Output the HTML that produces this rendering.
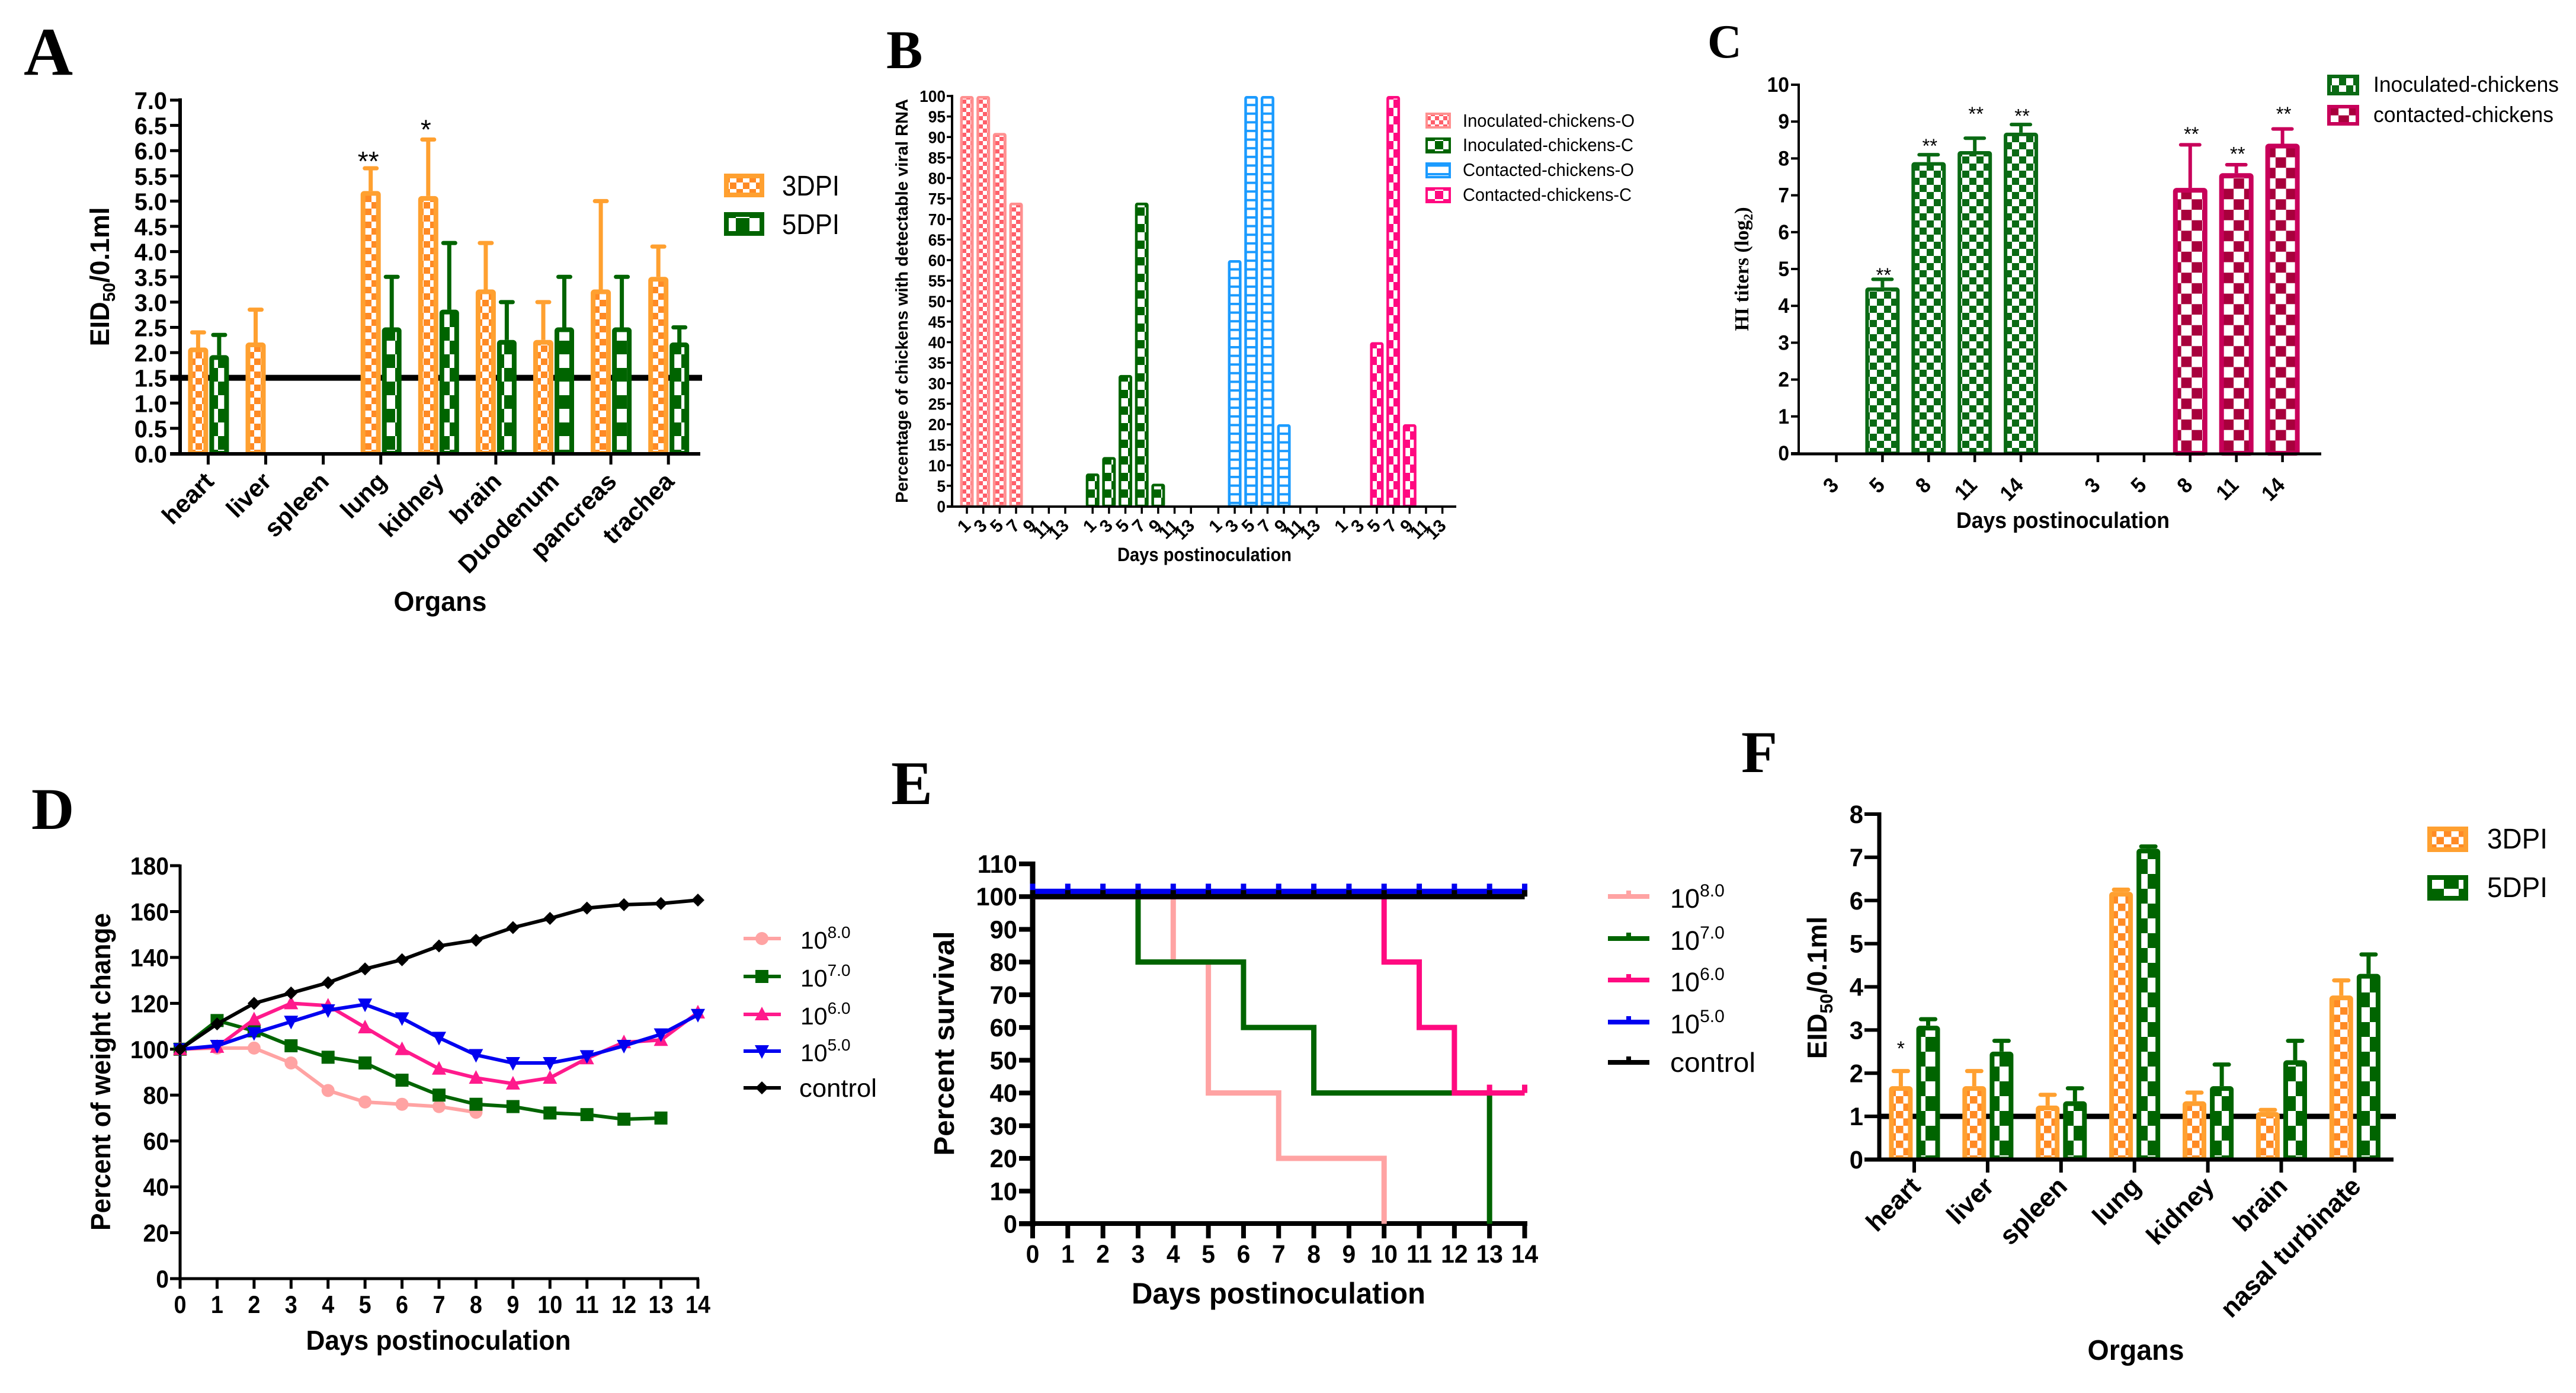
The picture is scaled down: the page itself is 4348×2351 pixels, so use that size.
<!DOCTYPE html>
<html lang="en"><head><meta charset="utf-8"><title>Six-panel chicken infection figure</title>
<style>
html,body{margin:0;padding:0;background:#fff}
svg{display:block}
text{font-family:"Liberation Sans",sans-serif;fill:#000}
.times{font-family:"Liberation Serif",serif}
.b{font-weight:700}
</style></head>
<body>
<svg id="fig" xmlns="http://www.w3.org/2000/svg" width="4348" height="2351" viewBox="0 0 4348 2351">
<defs>
<pattern id="pOrA" patternUnits="userSpaceOnUse" width="22" height="22"><rect width="22" height="22" fill="#fff"/><rect width="11" height="11" fill="#ff8a24"/><rect x="11" y="11" width="11" height="11" fill="#ff8a24"/></pattern>
<pattern id="pGrA" patternUnits="userSpaceOnUse" width="46" height="46"><rect width="46" height="46" fill="#fff"/><rect width="23" height="23" fill="#006400"/><rect x="23" y="23" width="23" height="23" fill="#006400"/></pattern>
<pattern id="pOrF" patternUnits="userSpaceOnUse" width="25" height="25"><rect width="25" height="25" fill="#fff"/><rect width="12.5" height="12.5" fill="#ff8a24"/><rect x="12.5" y="12.5" width="12.5" height="12.5" fill="#ff8a24"/></pattern>
<pattern id="pGrF" patternUnits="userSpaceOnUse" width="50" height="50"><rect width="50" height="50" fill="#fff"/><rect width="25" height="25" fill="#006400"/><rect x="25" y="25" width="25" height="25" fill="#006400"/></pattern>
<pattern id="pPkB" patternUnits="userSpaceOnUse" width="14" height="14"><rect width="14" height="14" fill="#fff"/><rect width="7" height="7" fill="#ff5f6a"/><rect x="7" y="7" width="7" height="7" fill="#ff5f6a"/></pattern>
<pattern id="pGrB" patternUnits="userSpaceOnUse" width="28" height="28"><rect width="28" height="28" fill="#fff"/><rect width="14" height="14" fill="#006400"/><rect x="14" y="14" width="14" height="14" fill="#006400"/></pattern>
<pattern id="pBlB" patternUnits="userSpaceOnUse" width="14.6" height="14.6"><rect width="14.6" height="14.6" fill="#fff"/><rect width="14.6" height="4" fill="#1b9bff"/></pattern>
<pattern id="pMgB" patternUnits="userSpaceOnUse" width="28" height="28"><rect width="28" height="28" fill="#fff"/><rect width="14" height="14" fill="#ff0a80"/><rect x="14" y="14" width="14" height="14" fill="#ff0a80"/></pattern>
<pattern id="pGrC" patternUnits="userSpaceOnUse" width="24" height="24"><rect width="24" height="24" fill="#fff"/><rect width="12" height="12" fill="#0a6a14"/><rect x="12" y="12" width="12" height="12" fill="#0a6a14"/></pattern>
<pattern id="pCrC" patternUnits="userSpaceOnUse" width="35.4" height="35.4"><rect width="35.4" height="35.4" fill="#fff"/><rect width="17.7" height="17.7" fill="#a8003c"/><rect x="17.7" y="17.7" width="17.7" height="17.7" fill="#a8003c"/></pattern>
</defs>

<g id="panelA">
<text class="times b" x="40" y="126" font-size="115">A</text>
<text class="b" transform="translate(184,467) rotate(-90)" text-anchor="middle" font-size="45">EID<tspan dy="10" font-size="29">50</tspan><tspan dy="-10">/0.1ml</tspan></text>
<text class="b" x="743" y="1031" text-anchor="middle" font-size="46" textLength="157" lengthAdjust="spacingAndGlyphs">Organs</text>
<g>
<rect x="1226" y="297" width="60" height="32" fill="url(#pOrA)" stroke="#ffa030" stroke-width="8"/>
<text x="1320" y="330" font-size="48" textLength="97" lengthAdjust="spacingAndGlyphs">3DPI</text>
<rect x="1226" y="362" width="60" height="32" fill="url(#pGrA)" stroke="#006400" stroke-width="8"/>
<text x="1320" y="395" font-size="48" textLength="97" lengthAdjust="spacingAndGlyphs">5DPI</text>
</g>
</g>

<g id="panelB">
<text class="times b" x="1496" y="115" font-size="92">B</text>
<text class="b" transform="translate(1532,508) rotate(-90)" text-anchor="middle" font-size="29" textLength="682" lengthAdjust="spacingAndGlyphs">Percentage of chickens with detectable viral RNA</text>
<text class="b" x="2033" y="947" text-anchor="middle" font-size="32" textLength="294" lengthAdjust="spacingAndGlyphs">Days postinoculation</text>
<g>
<rect x="2408" y="192" width="39" height="23" fill="url(#pPkB)" stroke="#ff8f8f" stroke-width="4"/>
<text x="2469" y="214" font-size="31" textLength="290" lengthAdjust="spacingAndGlyphs">Inoculated-chickens-O</text>
<rect x="2408" y="234" width="39" height="23" fill="url(#pGrB)" stroke="#006400" stroke-width="4"/>
<text x="2469" y="255" font-size="31" textLength="288" lengthAdjust="spacingAndGlyphs">Inoculated-chickens-C</text>
<rect x="2408" y="276" width="39" height="23" fill="url(#pBlB)" stroke="#1b9bff" stroke-width="4"/>
<text x="2469" y="297" font-size="31" textLength="289" lengthAdjust="spacingAndGlyphs">Contacted-chickens-O</text>
<rect x="2408" y="318" width="39" height="23" fill="url(#pMgB)" stroke="#ff0a80" stroke-width="4"/>
<text x="2469" y="339" font-size="31" textLength="285" lengthAdjust="spacingAndGlyphs">Contacted-chickens-C</text>
</g>
</g>

<g id="panelC">
<text class="times b" x="2882" y="97" font-size="80">C</text>
<text class="times b" transform="translate(2951,454) rotate(-90)" text-anchor="middle" font-size="34">HI titers (log<tspan dy="7" font-size="22">2</tspan><tspan dy="-7">)</tspan></text>
<text class="b" x="3482" y="891" text-anchor="middle" font-size="38" textLength="360" lengthAdjust="spacingAndGlyphs">Days postinoculation</text>
<g>
<rect x="3931" y="129" width="48" height="29" fill="url(#pGrC)" stroke="#0a6a14" stroke-width="6"/>
<text x="4006" y="155" font-size="37" textLength="313" lengthAdjust="spacingAndGlyphs">Inoculated-chickens</text>
<rect x="3931" y="180" width="48" height="29" fill="url(#pCrC)" stroke="#c8005a" stroke-width="6"/>
<text x="4006" y="206" font-size="37" textLength="304" lengthAdjust="spacingAndGlyphs">contacted-chickens</text>
</g>
</g>

<g id="panelD">
<text class="times b" x="53" y="1399" font-size="100">D</text>
<text class="b" transform="translate(186,1809) rotate(-90)" text-anchor="middle" font-size="46" textLength="536" lengthAdjust="spacingAndGlyphs">Percent of weight change</text>
<text class="b" x="740" y="2278" text-anchor="middle" font-size="46" textLength="447" lengthAdjust="spacingAndGlyphs">Days postinoculation</text>
<g>
<line x1="1255" x2="1318" y1="1584" y2="1584" stroke="#ffa3a3" stroke-width="6"/><circle cx="1286" cy="1584" r="11" fill="#ffa3a3"/>
<text x="1351" y="1601" font-size="41">10<tspan dy="-18" font-size="28">8.0</tspan></text>
<line x1="1255" x2="1318" y1="1648" y2="1648" stroke="#006400" stroke-width="6"/><rect x="1275" y="1637" width="22" height="22" fill="#006400"/>
<text x="1351" y="1665" font-size="41">10<tspan dy="-18" font-size="28">7.0</tspan></text>
<line x1="1255" x2="1318" y1="1712" y2="1712" stroke="#ff1a8c" stroke-width="6"/><polygon points="1286,1699 1298,1722 1274,1722" fill="#ff1a8c"/>
<text x="1351" y="1729" font-size="41">10<tspan dy="-18" font-size="28">6.0</tspan></text>
<line x1="1255" x2="1318" y1="1774" y2="1774" stroke="#0000f0" stroke-width="6"/><polygon points="1286,1787 1298,1764 1274,1764" fill="#0000f0"/>
<text x="1351" y="1791" font-size="41">10<tspan dy="-18" font-size="28">5.0</tspan></text>
<line x1="1255" x2="1318" y1="1836" y2="1836" stroke="#000" stroke-width="6"/><polygon points="1286,1825 1297,1836 1286,1847 1275,1836" fill="#000"/>
<text x="1349" y="1851" font-size="43" textLength="131" lengthAdjust="spacingAndGlyphs">control</text>
</g>
</g>

<g id="panelE">
<text class="times b" x="1504" y="1357" font-size="105">E</text>
<text class="b" transform="translate(1610,1761) rotate(-90)" text-anchor="middle" font-size="48" textLength="379" lengthAdjust="spacingAndGlyphs">Percent survival</text>
<text class="b" x="2158" y="2200" text-anchor="middle" font-size="50" textLength="496" lengthAdjust="spacingAndGlyphs">Days postinoculation</text>
<g>
<path d="M2714 1513H2784M2749 1513V1503" stroke="#ffa3a3" stroke-width="8" fill="none"/>
<text x="2819" y="1532" font-size="45">10<tspan dy="-19" font-size="30">8.0</tspan></text>
<path d="M2714 1584H2784M2749 1584V1574" stroke="#006400" stroke-width="8" fill="none"/>
<text x="2819" y="1603" font-size="45">10<tspan dy="-19" font-size="30">7.0</tspan></text>
<path d="M2714 1654H2784M2749 1654V1644" stroke="#ff0a80" stroke-width="8" fill="none"/>
<text x="2819" y="1673" font-size="45">10<tspan dy="-19" font-size="30">6.0</tspan></text>
<path d="M2714 1725H2784M2749 1725V1715" stroke="#0000f0" stroke-width="8" fill="none"/>
<text x="2819" y="1744" font-size="45">10<tspan dy="-19" font-size="30">5.0</tspan></text>
<path d="M2714 1793H2784M2749 1793V1783" stroke="#000" stroke-width="8" fill="none"/>
<text x="2819" y="1809" font-size="46" textLength="144" lengthAdjust="spacingAndGlyphs">control</text>
</g>
</g>

<g id="panelF">
<text class="times b" x="2939" y="1303" font-size="100">F</text>
<text class="b" transform="translate(3083,1667) rotate(-90)" text-anchor="middle" font-size="46">EID<tspan dy="10" font-size="30">50</tspan><tspan dy="-10">/0.1ml</tspan></text>
<text class="b" x="3605" y="2295" text-anchor="middle" font-size="48" textLength="163" lengthAdjust="spacingAndGlyphs">Organs</text>
<g>
<rect x="4101" y="1399" width="61" height="35" fill="url(#pOrF)" stroke="#ffa030" stroke-width="8"/>
<text x="4198" y="1432" font-size="48" textLength="102" lengthAdjust="spacingAndGlyphs">3DPI</text>
<rect x="4101" y="1481" width="61" height="35" fill="url(#pGrF)" stroke="#006400" stroke-width="8"/>
<text x="4198" y="1514" font-size="48" textLength="102" lengthAdjust="spacingAndGlyphs">5DPI</text>
</g>
</g>
</svg>

<script>
// ---------- Panel A data ----------
const organsA = ['heart','liver','spleen','lung','kidney','brain','Duodenum','pancreas','trachea'];
const a3dpi = [2.1,2.2,0,5.2,5.1,3.25,2.25,3.25,3.5];
const a3dpiTop = [2.4,2.85,null,5.65,6.22,4.17,3.0,5.0,4.1];
const a5dpi = [1.95,0,0,2.5,2.85,2.25,2.5,2.5,2.2];
const a5dpiTop = [2.35,null,null,3.5,4.17,3.0,3.5,3.5,2.5];
const aStars = ['','','','**','*','','','',''];
const aStarLevel = [null,null,null,5.9,6.53,null,null,null,null];
const aThreshold = 1.5;
const aTicks = ['0.0','0.5','1.0','1.5','2.0','2.5','3.0','3.5','4.0','4.5','5.0','5.5','6.0','6.5','7.0'];
// ---------- Panel B data ----------
const bDays = ['1','3','5','7','9','11','13'];
const bInocO = [100,100,91,74,0,0,0];
const bInocC = [8,12,32,74,5.5,0,0];
const bContO = [0,60,100,100,20,0,0];
const bContC = [0,0,40,100,20,0,0];
const bTicks = ['0','5','10','15','20','25','30','35','40','45','50','55','60','65','70','75','80','85','90','95','100'];
// ---------- Panel C data ----------
const cDays = ['3','5','8','11','14'];
const cInoc = [0,4.5,7.9,8.2,8.7];
const cInocTop = [null,4.72,8.1,8.55,8.92];
const cInocStar = [null,4.95,8.45,9.32,9.26];
const cCont = [0,0,7.2,7.6,8.4];
const cContTop = [null,null,8.37,7.83,8.8];
const cContStar = [null,null,8.77,8.23,9.32];
const cTicks = ['0','1','2','3','4','5','6','7','8','9','10'];
// ---------- Panel D data ----------
const dDays = [0,1,2,3,4,5,6,7,8,9,10,11,12,13,14];
const d80 = [100,100.5,100.5,94,82,77,76,75,72.5];
const d70 = [100,112.5,108,101.5,96.5,94,86.5,80,76,75,72.2,71.5,69.5,70];
const d60 = [100,101,113,120,119,109.5,100,91.5,87.5,85,87.5,96,103,104,116];
const d50 = [100,101.5,107,112,117,119.5,113.5,105,97.5,94,94,97,101.5,106.5,115];
const dCtl = [100,111,120,124.5,129,135,139,145,147.5,153,157,161.5,163,163.5,165];
const dYTicks = [0,20,40,60,80,100,120,140,160,180];
// ---------- Panel E data ----------
const eDays = [0,1,2,3,4,5,6,7,8,9,10,11,12,13,14];
const eYTicks = [0,10,20,30,40,50,60,70,80,90,100,110];
const e80Time = [0,4,5,7,10];
const e80Surv = [100,80,40,20,0];
const e70Time = [0,3,6,8,13];
const e70Surv = [100,80,60,40,0];
const e60Time = [0,10,11,12,14];
const e60Surv = [100,80,60,40,40];
const e50Time = [0,14];
const e50Surv = [101.6,101.6];
const eCtlTime = [0,14];
const eCtlSurv = [100,100];
const e60Censor = [13,14];
// ---------- Panel F data ----------
const organsF = ['heart','liver','spleen','lung','kidney','brain','nasal turbinate'];
const f3dpi = [1.7,1.7,1.25,6.2,1.35,1.1,3.8];
const f3dpiTop = [2.05,2.05,1.5,6.25,1.55,1.15,4.15];
const f5dpi = [3.1,2.5,1.35,7.2,1.7,2.3,4.3];
const f5dpiTop = [3.25,2.75,1.65,7.25,2.2,2.75,4.75];
const fStars = ['*','','','','','',''];
const fStarLevel = [2.67,null,null,null,null,null,null];
const fThreshold = 1;
const fTicks = ['0','1','2','3','4','5','6','7','8'];

// ---------- helpers ----------
const NS = 'http://www.w3.org/2000/svg';
function mk(tag, attrs, parent){
  const n = document.createElementNS(NS, tag);
  for (const k in attrs) n.setAttribute(k, attrs[k]);
  parent.appendChild(n);
  return n;
}
function linear(d0,d1,r0,r1){ return v => r0 + (v-d0)*(r1-r0)/(d1-d0); }
function seg(parent,name,x1,y1,x2,y2,sw,color){
  const l = mk('line',{x1,y1,x2,y2,stroke:color||'#000','stroke-width':sw},parent);
  
  
  return l;
}
function label(parent,name,x,y,str,o){
  const t = mk('text',{
    transform:'translate('+x+','+y+') rotate('+(o.rot||0)+') scale('+(o.sx||1)+',1)',
    'text-anchor':o.anchor||'end','font-size':o.size,'font-weight':o.weight||400
  },parent);
  t.textContent = str;
  
  
  return t;
}
function bar(parent,name,cx,w,yTop,yBase,fill,stroke,sw){
  const r = mk('rect',{x:cx-w/2+sw/2,y:yTop+sw/2,width:w-sw,height:yBase-yTop-sw/2,fill:fill,stroke:stroke,'stroke-width':sw,rx:2},parent);
  
  
  return r;
}
function errorBar(parent,name,cx,yBar,yTop,capW,sw,color){
  const v = mk('line',{x1:cx,x2:cx,y1:yBar,y2:yTop,stroke:color,'stroke-width':sw},parent);
  
  
  const c = mk('line',{x1:cx-capW/2,x2:cx+capW/2,y1:yTop,y2:yTop,stroke:color,'stroke-width':sw,'stroke-linecap':'round'},parent);
  
  
}
function stars(parent,name,cx,y,str,size){
  label(parent,name,cx,y+0.55*size,str,{size:size,anchor:'middle'});
}
const root = id => document.getElementById(id);

// ---------- Panel A ----------
(function(){
  const g = root('panelA');
  const y = linear(0,7,765.5,169);
  const x = i => 351.4 + 97.1*i;
  seg(g,'threshold-line',287,y(aThreshold),1185,y(aThreshold),10);
  organsA.forEach((o,i)=>{
    const c3 = x(i)-17, c5 = x(i)+18.5;
    if (a3dpi[i]>0){
      errorBar(g,'error-3dpi-'+o,c3,y(a3dpi[i]),y(a3dpiTop[i]),20,7,'#ffa030');
      bar(g,'bar-3dpi-'+o,c3,34,y(a3dpi[i]),765,'url(#pOrA)','#ffa030',8);
    }
    if (a5dpi[i]>0){
      errorBar(g,'error-5dpi-'+o,c5,y(a5dpi[i]),y(a5dpiTop[i]),20,7,'#006400');
      bar(g,'bar-5dpi-'+o,c5,33,y(a5dpi[i]),765,'url(#pGrA)','#006400',8);
    }
    if (aStars[i]) stars(g,'significance-'+o,c3-4,y(aStarLevel[i]),aStars[i],46);
    seg(g,'x-tick-'+o,x(i),766,x(i),784,5);
    label(g,'x-label-'+o,x(i)+12,815,o,{size:42,rot:-45,weight:700});
  });
  aTicks.forEach(t=>{
    const v = parseFloat(t);
    seg(g,'y-tick-'+t,287,y(v),304,y(v),5);
    label(g,'y-label-'+t,282,y(v)+15,t,{size:41,sx:.97,weight:700});
  });
  seg(g,'y-axis',304,166,304,768,6);
  seg(g,'x-axis',287,766,1182,766,6);
})();

// ---------- Panel B ----------
(function(){
  const g = root('panelB');
  const y = linear(0,100,854.5,162);
  const x = (grp,i) => 1632 + 212.2*grp + 27.67*i;
  const series = [
    {name:'inoculated-o',vals:bInocO,fill:'url(#pPkB)',stroke:'#ff8f8f'},
    {name:'inoculated-c',vals:bInocC,fill:'url(#pGrB)',stroke:'#006400'},
    {name:'contacted-o',vals:bContO,fill:'url(#pBlB)',stroke:'#1b9bff'},
    {name:'contacted-c',vals:bContC,fill:'url(#pMgB)',stroke:'#ff0a80'}
  ];
  series.forEach((s,gi)=>{
    bDays.forEach((d,i)=>{
      if (s.vals[i]>0) bar(g,'bar-'+s.name+'-day-'+d,x(gi,i),23,y(s.vals[i]),854,s.fill,s.stroke,4.5);
      seg(g,'x-tick-'+s.name+'-'+d,x(gi,i),855,x(gi,i),867,3.5);
      label(g,'x-label-'+s.name+'-'+d,x(gi,i)+8,889,d,{size:30,rot:-45,weight:700});
    });
  });
  bTicks.forEach(t=>{
    seg(g,'y-tick-'+t,1598,y(+t),1607,y(+t),3.5);
    label(g,'y-label-'+t,1596,y(+t)+10,t,{size:28,sx:.94,weight:700});
  });
  seg(g,'y-axis',1607,160,1607,857,4);
  seg(g,'x-axis',1598,855,2458,855,4);
})();

// ---------- Panel C ----------
(function(){
  const g = root('panelC');
  const y = linear(0,10,765,143);
  const x = (grp,i) => 3099.5 + 441.5*grp + 77.9*i;
  const series = [
    {name:'inoculated',vals:cInoc,top:cInocTop,star:cInocStar,fill:'url(#pGrC)',stroke:'#0a6a14',sw:6},
    {name:'contacted',vals:cCont,top:cContTop,star:cContStar,fill:'url(#pCrC)',stroke:'#c8005a',sw:8}
  ];
  series.forEach((s,gi)=>{
    cDays.forEach((d,i)=>{
      const cx = x(gi,i);
      if (s.vals[i]>0){
        errorBar(g,'error-'+s.name+'-'+d,cx,y(s.vals[i]),y(s.top[i]),32,6,s.stroke);
        bar(g,'bar-'+s.name+'-day-'+d,cx,58,y(s.vals[i]),765,s.fill,s.stroke,s.sw);
        stars(g,'significance-'+s.name+'-'+d,cx+2,y(s.star[i]),'**',33);
      }
      seg(g,'x-tick-'+s.name+'-'+d,cx,766,cx,780,4.5);
      label(g,'x-label-'+s.name+'-'+d,cx+6,821,d,{size:36,sx:.94,rot:-45,weight:700});
    });
  });
  cTicks.forEach(t=>{
    seg(g,'y-tick-'+t,3023,y(+t),3036,y(+t),4);
    label(g,'y-label-'+t,3020,y(+t)+12,t,{size:35,sx:.96,weight:700});
  });
  seg(g,'y-axis',3036,141,3036,768,4);
  seg(g,'x-axis',3023,766,3918,766,5);
})();

// ---------- Panel D ----------
(function(){
  const g = root('panelD');
  const x = linear(0,14,304,1178);
  const y = linear(0,180,2158,1461);
  dYTicks.forEach(t=>{
    seg(g,'y-tick-'+t,287,y(t),304,y(t),5);
    label(g,'y-label-'+t,285,y(t)+15,String(t),{size:42,sx:.93,weight:700});
  });
  dDays.forEach(d=>{
    seg(g,'x-tick-'+d,x(d),2158,x(d),2175,5);
    label(g,'x-label-'+d,x(d),2216,String(d),{size:42,sx:.9,anchor:'middle',weight:700});
  });
  seg(g,'y-axis',304,1459,304,2160,5);
  seg(g,'x-axis',287,2158,1180,2158,5);
  const series = [
    {name:'series-10-8',vals:d80,color:'#ffa3a3',m:'circle'},
    {name:'series-10-7',vals:d70,color:'#006400',m:'square'},
    {name:'series-10-6',vals:d60,color:'#ff1a8c',m:'up'},
    {name:'series-10-5',vals:d50,color:'#0000f0',m:'down'},
    {name:'series-control',vals:dCtl,color:'#000',m:'diamond'}
  ];
  series.forEach(s=>{
    const pts = s.vals.map((v,i)=>x(dDays[i])+','+y(v)).join(' ');
    const pl = mk('polyline',{points:pts,fill:'none',stroke:s.color,'stroke-width':6,'stroke-linejoin':'round'},g);
    
    
    s.vals.forEach((v,i)=>{
      const px = x(dDays[i]), py = y(v);
      let n;
      if (s.m==='circle') n = mk('circle',{cx:px,cy:py,r:11,fill:s.color},g);
      else if (s.m==='square') n = mk('rect',{x:px-11,y:py-11,width:22,height:22,fill:s.color},g);
      else if (s.m==='up') n = mk('polygon',{points:[px,py-13,px+12,py+10,px-12,py+10].join(' '),fill:s.color},g);
      else if (s.m==='down') n = mk('polygon',{points:[px,py+13,px+12,py-10,px-12,py-10].join(' '),fill:s.color},g);
      else n = mk('polygon',{points:[px,py-11,px+11,py,px,py+11,px-11,py].join(' '),fill:s.color},g);
      
      
    });
  });
})();

// ---------- Panel E ----------
(function(){
  const g = root('panelE');
  const x = linear(0,14,1743,2573.5);
  const y = linear(0,110,2065.5,1458);
  eYTicks.forEach(t=>{
    seg(g,'y-tick-'+t,1720,y(t),1743,y(t),8);
    label(g,'y-label-'+t,1717,y(t)+15,String(t),{size:43,sx:.97,weight:700});
  });
  eDays.forEach(d=>{
    seg(g,'x-tick-'+d,x(d),2065,x(d),2090,8);
    label(g,'x-label-'+d,x(d),2131,String(d),{size:43,sx:.95,anchor:'middle',weight:700});
  });
  seg(g,'y-axis',1743,1454,1743,2070,9);
  seg(g,'x-axis',1720,2065,2578,2065,8);
  function step(name,times,surv,color,censor,tickLen){
    let d = 'M'+x(times[0])+' '+y(surv[0]);
    for (let i=1;i<times.length;i++){
      d += 'H'+x(times[i])+'V'+y(surv[i]);
    }
    const p = mk('path',{d:d,fill:'none',stroke:color,'stroke-width':9,'stroke-linejoin':'miter'},g);
    
    
    const last = surv[surv.length-1];
    censor.forEach(c=>{
      seg(g,name+'-censor-tick',x(c),y(last),x(c),y(last)-tickLen,9,color);
    });
  }
  step('series-10-8',e80Time,e80Surv,'#ffa3a3',[],0);
  step('series-10-7',e70Time,e70Surv,'#006400',[],0);
  step('series-10-6',e60Time,e60Surv,'#ff0a80',e60Censor,14);
  step('series-10-5',e50Time,e50Surv,'#0000f0',eDays,13);
  step('series-control',eCtlTime,eCtlSurv,'#000',eDays,11);
})();

// ---------- Panel F ----------
(function(){
  const g = root('panelF');
  const y = linear(0,8,1957,1374);
  const x = i => 3231 + 123.9*i;
  seg(g,'threshold-line',3172,y(fThreshold),4044,y(fThreshold),9);
  organsF.forEach((o,i)=>{
    const c3 = x(i)-22.6, c5 = x(i)+23.5;
    errorBar(g,'error-3dpi-'+o,c3,y(f3dpi[i]),y(f3dpiTop[i]),24,7,'#ffa030');
    bar(g,'bar-3dpi-'+o,c3,40,y(f3dpi[i]),1956,'url(#pOrF)','#ffa030',8);
    errorBar(g,'error-5dpi-'+o,c5,y(f5dpi[i]),y(f5dpiTop[i]),24,7,'#006400');
    bar(g,'bar-5dpi-'+o,c5,40,y(f5dpi[i]),1956,'url(#pGrF)','#006400',8);
    if (fStars[i]) stars(g,'significance-'+o,c3,y(fStarLevel[i]),fStars[i],34);
    seg(g,'x-tick-'+o,x(i),1957,x(i),1979,6);
    label(g,'x-label-'+o,x(i)+13,2005,o,{size:44,rot:-45,weight:700});
  });
  fTicks.forEach(t=>{
    seg(g,'y-tick-'+t,3147,y(+t),3172,y(+t),6);
    label(g,'y-label-'+t,3145,y(+t)+15,t,{size:43,sx:.97,weight:700});
  });
  seg(g,'y-axis',3172,1371,3172,1960,7);
  seg(g,'x-axis',3147,1957,4040,1957,7);
})();
</script>
</body></html>
